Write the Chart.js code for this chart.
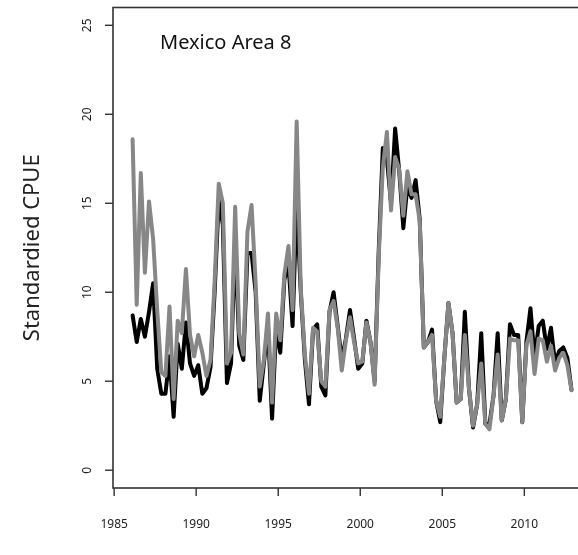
<!DOCTYPE html>
<html lang="en">
<head>
    <meta charset="UTF-8">
    <title>Mexico Area 8 - Standardized CPUE</title>
    <script src="https://cdn.jsdelivr.net/npm/chart.js"></script>
    <style>
        html, body { margin: 0; padding: 0; background: #fff; overflow: hidden; }
        #wrap { width: 600px; height: 555px; }
    </style>
</head>
<body>
    <div id="wrap">
        <canvas id="cpueChart" width="600" height="555"></canvas>
    </div>

    <script>
        // quarterly series, 1986 Q1 .. 2012 Q4
        var firstYear = 1986;
        var lastYear = 2012;

        var blackSeries = [
            8.7, 7.2, 8.5, 7.5, 8.9, 10.5, 5.7, 4.3, 4.3, 6.4,
            3.0, 7.1, 5.7, 8.3, 6.0, 5.3, 5.9, 4.3, 4.6, 5.8,
            10.0, 15.2, 13.8, 4.9, 6.0, 13.0, 7.0, 6.2, 12.2, 12.2,
            10.0, 3.9, 6.0, 8.0, 2.9, 8.0, 6.6, 10.7, 11.6, 8.1,
            15.0, 10.0, 6.2, 3.7, 7.9, 8.2, 4.7, 4.2, 8.9, 10.0,
            8.1, 6.2, 7.4, 9.0, 7.4, 5.7, 6.0, 8.4, 7.2, 5.0,
            12.3, 18.1, 17.5, 15.0, 19.2, 16.8, 13.6, 16.0, 15.3, 16.3,
            14.1, 6.9, 7.2, 7.9, 3.9, 2.7, 6.3, 9.4, 7.7, 3.8,
            4.0, 8.9, 4.6, 2.4, 3.7, 7.7, 2.6, 2.6, 4.2, 7.7,
            2.8, 4.0, 8.2, 7.6, 7.6, 2.7, 7.2, 9.1, 6.3, 8.1,
            8.4, 6.8, 8.0, 6.0, 6.7, 6.9, 6.3, 4.5
        ];

        var graySeries = [
            18.6, 9.3, 16.7, 11.1, 15.1, 13.0, 9.0, 5.5, 5.3, 9.2,
            4.0, 8.4, 7.7, 11.3, 7.6, 6.4, 7.6, 6.6, 5.3, 6.2,
            10.6, 16.1, 15.0, 6.0, 6.6, 14.8, 7.7, 6.5, 13.4, 14.9,
            10.5, 4.7, 6.2, 8.8, 3.8, 8.8, 7.3, 11.0, 12.6, 9.0,
            19.6, 10.2, 6.5, 4.3, 8.0, 7.8, 5.0, 4.7, 9.0, 9.5,
            8.0, 5.6, 7.3, 8.6, 7.2, 6.0, 6.1, 8.3, 7.2, 4.8,
            12.0, 17.0, 19.0, 14.6, 17.6, 16.9, 14.3, 16.8, 15.5, 15.5,
            14.0, 6.9, 7.2, 7.6, 3.9, 3.0, 6.3, 9.4, 7.7, 3.8,
            4.0, 7.6, 4.6, 2.5, 3.7, 6.0, 2.6, 2.3, 4.2, 6.5,
            2.8, 4.0, 7.4, 7.3, 7.3, 2.7, 7.0, 7.8, 5.4, 7.4,
            7.3, 6.1, 7.0, 5.6, 6.3, 6.6, 5.9, 4.5
        ];

        var xTicks = [1985, 1990, 1995, 2000, 2005, 2010];
        var yTicks = [0, 5, 10, 15, 20, 25];

        // mid-point of each quarter
        var quarterTimes = [];
        for (var yr = firstYear; yr <= lastYear; yr++) {
            for (var q = 1; q <= 4; q++) {
                quarterTimes.push(yr + (q - 0.5) / 4);
            }
        }

        function toPoints(values) {
            return values.map(function(v, i) {
                return { x: quarterTimes[i], y: v };
            });
        }

        var font = '"Noto Sans", "DejaVu Sans", sans-serif';

        // box, axes, tick labels and titles drawn R-style
        var frame = {
            id: 'frame',
            afterDraw: function(chart) {
                var ctx = chart.ctx;
                var area = chart.chartArea;
                var xs = chart.scales.x;
                var ys = chart.scales.y;

                ctx.save();
                ctx.strokeStyle = '#333';
                ctx.lineWidth = 1.6;
                ctx.strokeRect(area.left, area.top, area.right - area.left, area.bottom - area.top);

                ctx.lineWidth = 1.4;
                ctx.fillStyle = '#222';

                // x axis
                ctx.font = '12px ' + font;
                ctx.textAlign = 'center';
                ctx.textBaseline = 'middle';
                xTicks.forEach(function(t) {
                    var px = xs.getPixelForValue(t);
                    ctx.beginPath();
                    ctx.moveTo(px, area.bottom);
                    ctx.lineTo(px, area.bottom + 8);
                    ctx.stroke();
                    ctx.fillText(String(t), px, area.bottom + 37);
                });

                // y axis
                yTicks.forEach(function(t) {
                    var py = ys.getPixelForValue(t);
                    ctx.beginPath();
                    ctx.moveTo(area.left, py);
                    ctx.lineTo(area.left - 8, py);
                    ctx.stroke();
                    ctx.save();
                    ctx.translate(area.left - 25, py);
                    ctx.rotate(-Math.PI / 2);
                    ctx.fillText(String(t), 0, 0);
                    ctx.restore();
                });

                // axis title
                ctx.save();
                ctx.font = '22px ' + font;
                ctx.translate(33, (area.top + area.bottom) / 2);
                ctx.rotate(-Math.PI / 2);
                ctx.fillText('Standardied CPUE', 0, 0);
                ctx.restore();

                // panel title
                ctx.font = '20px ' + font;
                ctx.textAlign = 'left';
                ctx.fillStyle = '#111';
                ctx.fillText('Mexico Area 8', 160, 43);
                ctx.restore();
            }
        };

        new Chart(document.getElementById('cpueChart'), {
            type: 'line',
            data: {
                datasets: [
                    {
                        label: 'Gray',
                        data: toPoints(graySeries),
                        borderColor: '#878787',
                        borderWidth: 4,
                        order: 0
                    },
                    {
                        label: 'Black',
                        data: toPoints(blackSeries),
                        borderColor: '#000',
                        borderWidth: 4,
                        order: 1
                    }
                ]
            },
            options: {
                responsive: false,
                animation: false,
                layout: { padding: { left: 113, top: 7.5, right: 13, bottom: 67 } },
                elements: {
                    point: { radius: 0 },
                    line: { tension: 0, borderJoinStyle: 'round', borderCapStyle: 'round' }
                },
                plugins: {
                    legend: { display: false },
                    tooltip: { enabled: false }
                },
                scales: {
                    x: { type: 'linear', min: 1984.93, max: 2013.82, display: false },
                    y: { min: -1, max: 26, display: false }
                }
            },
            plugins: [frame]
        });
    </script>
</body>
</html>
